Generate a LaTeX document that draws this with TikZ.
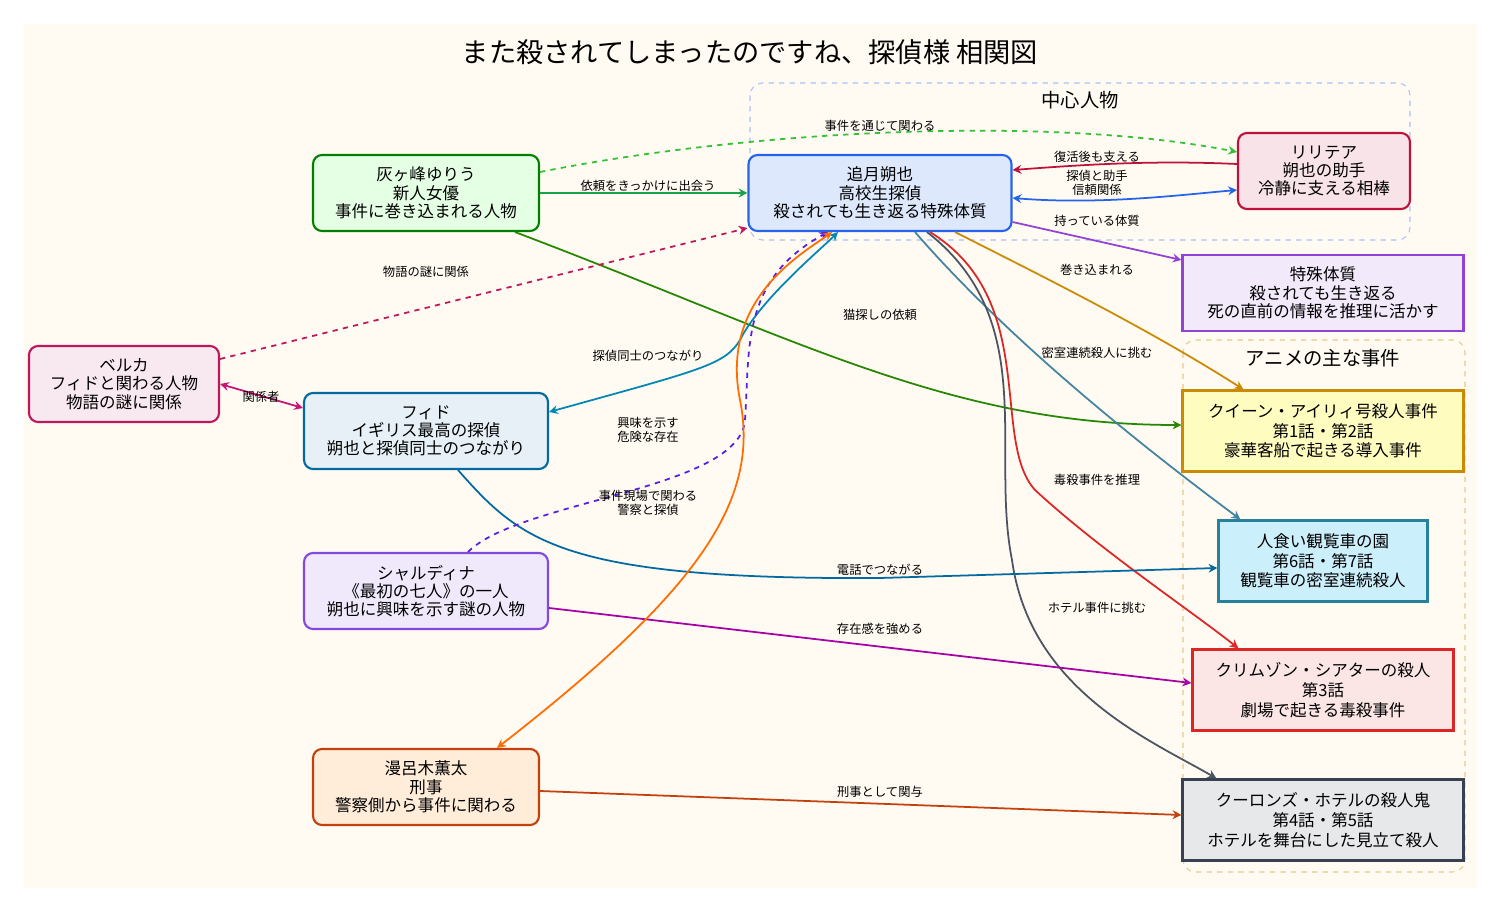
\documentclass[tikz,border=0pt]{standalone}
\usepackage{fontspec}
\setmainfont{Noto Sans CJK JP}
\usetikzlibrary{calc,arrows.meta}
\definecolor{paper}{HTML}{FFFAF2}
\definecolor{cgreen}{HTML}{16A34A}
\definecolor{cblue}{HTML}{2563EB}
\definecolor{crose}{HTML}{BE123C}
\definecolor{cviolet}{HTML}{7E22CE}
\definecolor{cpink}{HTML}{BE185D}
\definecolor{csky}{HTML}{0369A1}
\definecolor{cpurple}{HTML}{6D28D9}
\definecolor{corange}{HTML}{C2410C}
\definecolor{camber}{HTML}{CA8A04}
\definecolor{cteal}{HTML}{0E7490}
\definecolor{cred}{HTML}{DC2626}
\definecolor{cslate}{HTML}{374151}
\begin{document}
\begin{tikzpicture}[
            x=0.02cm, y=-0.02cm,
            person/.style={
                rectangle,
                rounded corners=0.18cm,
                line width=1.2pt,
                inner sep=0pt,
                minimum height=1.52cm,
                align=center,
                font=\fontsize{9.4}{10.4}\selectfont
            },
            incident/.style={
                rectangle,
                line width=1.3pt,
                inner sep=0pt,
                minimum height=1.62cm,
                align=center,
                font=\fontsize{9.4}{11.2}\selectfont
            },
            group/.style={
                rectangle,
                dashed,
                rounded corners=0.25cm,
                line width=0.6pt
            },
            lbl/.style={
                font=\fontsize{7}{8}\selectfont,
                align=center,
                inner sep=1pt
            },
            arrow/.style={-{Stealth[length=5pt,width=5pt]}, line width=1pt},
            both/.style={{Stealth[length=5pt,width=5pt]}-{Stealth[length=5pt,width=5pt]}, line width=1pt}
        ]

        % Canvas
        \fill[white] (0,0) rectangle (1502,912);
        \fill[paper] (24,24) rectangle (1477,888);
        \node[font=\fontsize{15.5}{18}\selectfont] (title) at (750,52) {また殺されてしまったのですね、探偵様 相関図};

        % Groups
        \draw[group, draw=cblue!40] (750,83) rectangle (1410,240);
        \node[font=\fontsize{11}{13}\selectfont] (g1) at (1080,100) {中心人物};
        \draw[group, draw=camber!45] (1183,340) rectangle (1465,872);
        \node[font=\fontsize{11}{13}\selectfont] (g2) at (1323,358) {アニメの主な事件};

        % People
        \node[person, draw=green!50!black, fill=green!10, minimum width=4.52cm] (yuri) at (426,193) {灰ヶ峰ゆりう\\新人女優\\事件に巻き込まれる人物};
        \node[person, draw=cblue, fill=cblue!15, minimum width=5.26cm] (tsuki) at (880,193) {追月朔也\\高校生探偵\\殺されても生き返る特殊体質};
        \node[person, draw=crose, fill=crose!12, minimum width=3.44cm] (ririt) at (1324,171) {リリテア\\朔也の助手\\冷静に支える相棒};
        \node[person, rounded corners=0pt, draw=cviolet!85, fill=cviolet!10, minimum width=5.62cm] (taishitsu) at (1323,293) {特殊体質\\殺されても生き返る\\死の直前の情報を推理に活かす};
        \node[person, draw=cpink, fill=cpink!10, minimum width=3.8cm] (beruka) at (124,384) {ベルカ\\フィドと関わる人物\\物語の謎に関係};
        \node[person, draw=csky, fill=csky!10, minimum width=4.88cm] (fido) at (426,431) {フィド\\イギリス最高の探偵\\朔也と探偵同士のつながり};
        \node[person, draw=cpurple!85, fill=cpurple!10, minimum width=4.88cm] (sharu) at (426,591) {シャルディナ\\《最初の七人》の一人\\朔也に興味を示す謎の人物};
        \node[person, draw=corange, fill=orange!15, minimum width=4.52cm] (mazu) at (426,787) {漫呂木薫太\\刑事\\警察側から事件に関わる};

        % Incidents
        \node[incident, draw=camber, fill=yellow!25, minimum width=5.62cm] (queen) at (1323,431) {クイーン・アイリィ号殺人事件\\第1話・第2話\\豪華客船で起きる導入事件};
        \node[incident, draw=cteal!90, fill=cyan!20, minimum width=4.18cm] (kanran) at (1323,561) {人食い観覧車の園\\第6話・第7話\\観覧車の密室連続殺人};
        \node[incident, draw=cred, fill=cred!12, minimum width=5.22cm] (crimson) at (1323,690) {クリムゾン・シアターの殺人\\第3話\\劇場で起きる毒殺事件};
        \node[incident, draw=cslate, fill=cslate!12, minimum width=5.62cm] (hotel) at (1323,820) {クーロンズ・ホテルの殺人鬼\\第4話・第5話\\ホテルを舞台にした見立て殺人};

        % Connectors from yuri
        \draw[arrow, dashed, green!70!black!80] ($(yuri.east)+(0,-21)$) .. controls (750,130) and (1050,115) .. ($(ririt.west)+(0,-19)$);
        \draw[arrow, cgreen] (yuri.east) -- (tsuki.west);
        \draw[arrow, green!45!black!85!yellow] ($(yuri.south)+(89,0)$) .. controls (800,340) and (950,425) .. ($(queen.west)+(0,-6)$);

        % Connectors around tsuki
        \draw[arrow, crose] ($(ririt.west)+(0,-7)$) .. controls (1150,160) and (1080,165) .. ($(tsuki.east)+(0,-23)$);
        \draw[both, cblue] ($(tsuki.east)+(0,5)$) .. controls (1100,205) and (1180,195) .. ($(ririt.west)+(0,19)$);
        \draw[arrow, cviolet!85] ($(tsuki.east)+(0,29)$) -- ($(taishitsu.west)+(0,-33)$);
        \draw[arrow, camber] ($(tsuki.south)+(75,0)$) .. controls (1050,280) and (1150,330) .. ($(queen.north west)+(62,0)$);
        \draw[arrow, cyan!60!black] ($(tsuki.south)+(35,0)$) .. controls (1000,330) and (1120,430) .. ($(kanran.north west)+(23,0)$);
        \draw[arrow, cred] ($(tsuki.south)+(50,0)$) .. controls (1040,300) and (990,440) .. (1035,490) .. controls (1100,550) and (1190,610) .. ($(crimson.north west)+(47,0)$);
        \draw[arrow, cslate!90] ($(tsuki.south)+(47,0)$) .. controls (1040,320) and (990,450) .. (1012,560) .. controls (1030,690) and (1150,740) .. ($(hotel.north west)+(35,0)$);

        % Connectors from the left
        \draw[arrow, dashed, cpink] ($(beruka.east)+(0,-25)$) -- ($(tsuki.west)+(0,35)$);
        \draw[both, cpink!85!magenta] (beruka.east) -- ($(fido.west)+(0,-23)$);
        \draw[both, csky!80!cyan] ($(fido.east)+(0,-19)$) .. controls (700,370) and (725,365) .. (740,340) .. controls (760,300) and (820,250) .. ($(tsuki.south)+(-42,0)$);
        \draw[arrow, csky] ($(fido.south)+(32,0)$) .. controls (520,540) and (560,580) .. (880,578) -- ($(kanran.west)+(0,7)$);
        \draw[arrow, dashed, cpurple!80!blue] ($(sharu.north)+(42,0)$) .. controls (520,500) and (740,490) .. (745,420) .. controls (750,350) and (740,280) .. ($(tsuki.south)+(-52,0)$);
        \draw[arrow, violet!70!magenta] ($(sharu.east)+(0,17)$) -- ($(crimson.west)+(0,-7)$);
        \draw[both, orange!85!red] ($(mazu.north)+(71,0)$) .. controls (700,590) and (760,500) .. (740,400) .. controls (720,300) and (800,255) .. ($(tsuki.south)+(-48,0)$);
        \draw[arrow, corange] ($(mazu.east)+(0,4)$) -- ($(hotel.west)+(0,-5)$);

        % Edge labels
        \node[lbl] (l1) at (880,126) {事件を通じて関わる};
        \node[lbl] (l2) at (648,186) {依頼をきっかけに出会う};
        \node[lbl] (l3) at (880,315) {猫探しの依頼};
        \node[lbl] (l4) at (1097,157) {復活後も支える};
        \node[lbl] (l5) at (1097,183) {探偵と助手\\信頼関係};
        \node[lbl] (l6) at (1097,221) {持っている体質};
        \node[lbl] (l7) at (1097,270) {巻き込まれる};
        \node[lbl] (l8) at (1097,353) {密室連続殺人に挑む};
        \node[lbl] (l9) at (1097,480) {毒殺事件を推理};
        \node[lbl] (l10) at (1097,608) {ホテル事件に挑む};
        \node[lbl] (l11) at (426,272) {物語の謎に関係};
        \node[lbl] (l12) at (261,397) {関係者};
        \node[lbl] (l13) at (648,356) {探偵同士のつながり};
        \node[lbl] (l14) at (880,570) {電話でつながる};
        \node[lbl] (l15) at (648,430) {興味を示す\\危険な存在};
        \node[lbl] (l16) at (880,629) {存在感を強める};
        \node[lbl] (l17) at (648,503) {事件現場で関わる\\警察と探偵};
        \node[lbl] (l18) at (880,792) {刑事として関与};
\end{tikzpicture}
\end{document}
